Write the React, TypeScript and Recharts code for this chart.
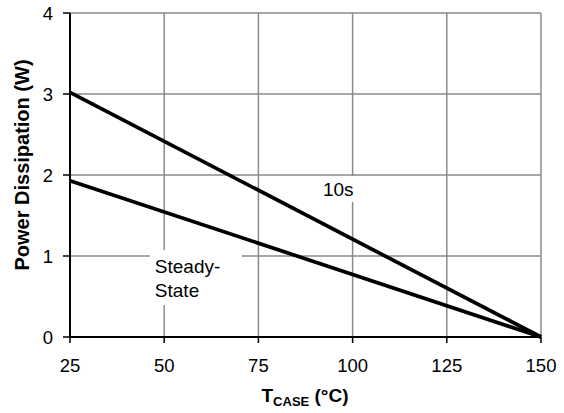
import { LineChart, Line, XAxis, YAxis, CartesianGrid, ReferenceDot } from 'recharts';

// T_CASE (°C)
const tCase = [25, 150];
// power dissipation (W)
const tenSec = [3.02, 0];
const steadyState = [1.93, 0];

const xTicks = [25, 50, 75, 100, 125, 150];
const yTicks = [0, 1, 2, 3, 4];

const data = tCase.map((t, i) => ({ t, tenSec: tenSec[i], steady: steadyState[i] }));

const FONT = '"Liberation Sans", Arial, sans-serif';

const TenSecLabel = ({ cx, cy }: any) => (
  <g>
    <rect x={cx - 25.5} y={cy - 13} width={51} height={26} fill="#fff" />
    <text x={cx - 19.5} y={cy + 7} fontSize={19} fontFamily={FONT} fill="#000">10s</text>
  </g>
);

const SteadyLabel = ({ cx, cy }: any) => (
  <g>
    <rect x={cx - 46} y={cy - 27.5} width={92} height={55} fill="#fff" />
    <text x={cx - 41} y={cy - 4.5} fontSize={19} fontFamily={FONT} fill="#000">Steady-</text>
    <text x={cx - 41} y={cy + 19.5} fontSize={19} fontFamily={FONT} fill="#000">State</text>
  </g>
);

export default function App() {
  return (
    <div style={{ position: 'absolute', left: 0, top: 0, width: 564, height: 413, background: '#fff' }}>
      <LineChart width={564} height={413} data={data} margin={{ top: 13, right: 23, left: 0, bottom: 0 }}>
        <CartesianGrid stroke="#8a8a8a" strokeWidth={1.5} />
        <XAxis
          dataKey="t"
          type="number"
          domain={[25, 150]}
          ticks={xTicks}
          height={76}
          tickSize={6}
          tickMargin={16}
          axisLine={{ stroke: '#000', strokeWidth: 2 }}
          tickLine={{ stroke: '#000', strokeWidth: 1.5 }}
          tick={{ fill: '#000', fontSize: 18.5, fontFamily: FONT }}
          label={{
            content: () => (
              <text x={305} y={402} textAnchor="middle" fontSize={19} fontWeight="bold" fontFamily={FONT} fill="#000">
                T<tspan fontSize={13} dy={4}>CASE</tspan>
                <tspan dy={-4}> (°C)</tspan>
              </text>
            ),
          }}
        />
        <YAxis
          type="number"
          domain={[0, 4]}
          ticks={yTicks}
          width={70}
          tickSize={7}
          tickMargin={10}
          axisLine={{ stroke: '#000', strokeWidth: 2 }}
          tickLine={{ stroke: '#000', strokeWidth: 1.5 }}
          tick={{ fill: '#000', fontSize: 18.5, fontFamily: FONT }}
          label={{
            content: () => (
              <text
                x={0}
                y={0}
                transform="translate(29 165) rotate(-90)"
                textAnchor="middle"
                fontSize={20}
                fontWeight="bold"
                fontFamily={FONT}
                fill="#000"
              >
                Power Dissipation (W)
              </text>
            ),
          }}
        />
        <ReferenceDot x={97.3} y={1.827} r={0} shape={TenSecLabel} />
        <ReferenceDot x={58.4} y={0.735} r={0} shape={SteadyLabel} />
        <Line dataKey="tenSec" stroke="#000" strokeWidth={3.7} dot={false} isAnimationActive={false} />
        <Line dataKey="steady" stroke="#000" strokeWidth={3.7} dot={false} isAnimationActive={false} />
      </LineChart>
    </div>
  );
}
